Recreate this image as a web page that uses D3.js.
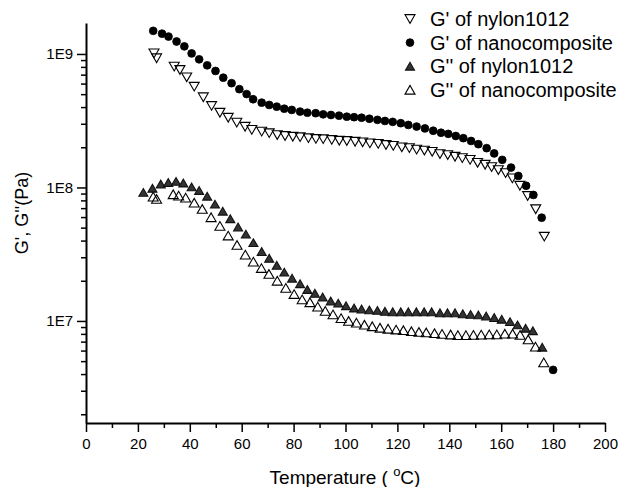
<!DOCTYPE html>
<html>
<head>
<meta charset="utf-8">
<script src="https://cdn.jsdelivr.net/npm/d3@7"></script>
<style>
  html, body { margin: 0; padding: 0; background: #fff; }
  svg { display: block; font-family: "Liberation Sans", Arial, sans-serif; }
</style>
</head>
<body>
<svg id="chart" width="618" height="487"></svg>
<script>
// Storage modulus G' and loss modulus G'' versus temperature (Pa)

// G' of nylon1012
const gpNylonT = [26.2, 27.2, 34.0, 36.2, 38.8, 41.7, 45.2, 48.4, 51.6, 54.8, 58.1, 61.3, 63.9, 67.7, 70.6, 73.7, 76.7, 79.7, 82.5, 85.7, 88.6, 91.4, 94.7, 97.6, 100.5, 103.7, 106.6, 109.4, 112.6, 115.6, 118.4, 121.7, 124.6, 127.4, 130.4, 133.4, 136.4, 139.4, 142.2, 145.0, 148.0, 150.9, 153.8, 156.3, 158.9, 161.7, 164.3, 167.2, 170.2, 173.3, 176.6];
const gpNylonV = [1.01e9, 9.29e8, 8.04e8, 7.59e8, 6.69e8, 5.69e8, 4.74e8, 4.08e8, 3.63e8, 3.33e8, 3.06e8, 2.85e8, 2.70e8, 2.62e8, 2.55e8, 2.47e8, 2.43e8, 2.40e8, 2.38e8, 2.34e8, 2.31e8, 2.30e8, 2.27e8, 2.24e8, 2.23e8, 2.20e8, 2.18e8, 2.14e8, 2.12e8, 2.08e8, 2.05e8, 2.00e8, 1.97e8, 1.92e8, 1.89e8, 1.85e8, 1.78e8, 1.75e8, 1.70e8, 1.66e8, 1.61e8, 1.53e8, 1.48e8, 1.42e8, 1.35e8, 1.28e8, 1.17e8, 1.03e8, 8.63e7, 6.87e7, 4.28e7];

// G' of nanocomposite
const gpNanoT = [25.9, 29.3, 31.8, 34.9, 37.9, 40.7, 43.6, 46.7, 49.9, 52.9, 56.1, 59.1, 61.9, 64.4, 67.7, 70.6, 73.5, 76.4, 79.3, 82.5, 85.3, 88.5, 91.4, 94.4, 97.5, 100.5, 103.3, 106.2, 109.2, 112.3, 115.2, 118.2, 121.3, 124.2, 127.4, 130.6, 133.8, 136.8, 139.6, 142.5, 145.4, 148.4, 151.2, 154.4, 157.3, 160.4, 163.8, 166.6, 169.6, 172.4, 175.6, 180.0];
const gpNanoV = [1.49e9, 1.42e9, 1.35e9, 1.24e9, 1.14e9, 1.01e9, 9.12e8, 8.22e8, 7.46e8, 6.64e8, 6.04e8, 5.45e8, 5.01e8, 4.58e8, 4.32e8, 4.15e8, 4.03e8, 3.89e8, 3.81e8, 3.70e8, 3.63e8, 3.60e8, 3.53e8, 3.49e8, 3.45e8, 3.39e8, 3.36e8, 3.33e8, 3.27e8, 3.21e8, 3.15e8, 3.10e8, 3.03e8, 2.94e8, 2.86e8, 2.77e8, 2.66e8, 2.57e8, 2.52e8, 2.43e8, 2.34e8, 2.23e8, 2.11e8, 1.97e8, 1.80e8, 1.61e8, 1.41e8, 1.22e8, 1.03e8, 8.79e7, 5.94e7, 4.30e6];

// G'' of nylon1012
const gppNylonT = [22.1, 25.6, 28.8, 31.7, 34.7, 37.5, 40.7, 43.6, 46.7, 49.7, 52.7, 55.6, 58.6, 61.6, 64.5, 67.7, 70.6, 73.5, 76.4, 79.4, 82.5, 85.3, 88.2, 91.2, 94.3, 97.2, 100.2, 103.3, 106.2, 109.2, 112.3, 115.2, 118.2, 121.3, 124.2, 127.3, 130.3, 133.2, 136.4, 139.3, 142.2, 145.2, 148.2, 151.2, 154.2, 157.3, 160.2, 163.4, 166.3, 169.4, 172.2, 175.8];
const gppNylonV = [9.18e7, 9.86e7, 1.06e8, 1.09e8, 1.11e8, 1.08e8, 1.01e8, 9.50e7, 8.60e7, 7.50e7, 6.64e7, 5.83e7, 5.06e7, 4.47e7, 3.86e7, 3.31e7, 2.95e7, 2.61e7, 2.32e7, 2.09e7, 1.90e7, 1.72e7, 1.61e7, 1.51e7, 1.41e7, 1.36e7, 1.30e7, 1.25e7, 1.23e7, 1.21e7, 1.20e7, 1.18e7, 1.17e7, 1.17e7, 1.17e7, 1.17e7, 1.17e7, 1.17e7, 1.15e7, 1.15e7, 1.15e7, 1.13e7, 1.12e7, 1.11e7, 1.09e7, 1.06e7, 1.03e7, 9.88e6, 9.34e6, 8.82e6, 8.45e6, 6.36e6];

// G'' of nanocomposite
const gppNanoT = [25.9, 27.2, 33.6, 35.7, 38.4, 41.7, 44.8, 48.2, 51.6, 54.8, 58.2, 61.4, 64.5, 67.6, 70.5, 73.7, 77.0, 80.2, 83.3, 86.3, 89.3, 92.2, 95.2, 98.3, 101.2, 104.2, 107.3, 110.3, 113.3, 116.4, 119.5, 122.3, 125.4, 128.3, 131.1, 134.3, 137.2, 140.5, 143.3, 146.4, 149.3, 152.3, 155.4, 158.3, 161.4, 164.4, 167.3, 170.4, 173.2, 176.4];
const gppNanoV = [8.53e7, 8.20e7, 8.89e7, 8.68e7, 8.39e7, 7.69e7, 6.90e7, 5.98e7, 5.15e7, 4.36e7, 3.71e7, 3.14e7, 2.78e7, 2.49e7, 2.25e7, 2.00e7, 1.77e7, 1.59e7, 1.45e7, 1.38e7, 1.28e7, 1.19e7, 1.12e7, 1.05e7, 1.00e7, 9.71e6, 9.37e6, 9.12e6, 8.89e6, 8.74e6, 8.62e6, 8.52e6, 8.38e6, 8.27e6, 8.20e6, 8.09e6, 8.00e6, 7.91e6, 7.83e6, 7.83e6, 7.86e6, 7.90e6, 7.93e6, 7.93e6, 8.02e6, 8.02e6, 7.86e6, 7.27e6, 6.42e6, 4.89e6];

// Axis ticks
const xTicks = [0, 20, 40, 60, 80, 100, 120, 140, 160, 180, 200];
const xMinorTicks = [10, 30, 50, 70, 90, 110, 130, 150, 170, 190];
const yTicks = [1e7, 1e8, 1e9];
const yTickLabels = ["1E7", "1E8", "1E9"];
const yMinorTicks = [2e6, 3e6, 4e6, 5e6, 6e6, 7e6, 8e6, 9e6,
                     2e7, 3e7, 4e7, 5e7, 6e7, 7e7, 8e7, 9e7,
                     2e8, 3e8, 4e8, 5e8, 6e8, 7e8, 8e8, 9e8];

const seriesNames = ["G' of nylon1012", "G' of nanocomposite", "G'' of nylon1012", "G'' of nanocomposite"];

const svg = d3.select("#chart");
const plot = { left: 86, right: 605, top: 23, bottom: 423 };

const x = d3.scaleLinear().domain([0, 200]).range([plot.left, plot.right]);
const y = d3.scaleLog().domain([1.72e6, 1.706e9]).range([plot.bottom, plot.top]);

// Marker shapes
function downTri(s) { const h = s * 0.866; return `M${-s/2},${-h/2}L${s/2},${-h/2}L0,${h/2}Z`; }
function upTri(s) { const h = s * 0.866; return `M${-s/2},${h/2}L${s/2},${h/2}L0,${-h/2}Z`; }

const styles = [
  { kind: "down", fill: "none", stroke: "#000", size: 10 },
  { kind: "circle", fill: "#000", stroke: "#000" },
  { kind: "up", fill: "#333", stroke: "#111", size: 9 },
  { kind: "up", fill: "none", stroke: "#000", size: 10 }
];

function drawMarker(g, st) {
  if (st.kind === "circle") {
    g.append("circle").attr("r", 3.9).attr("fill", st.fill).attr("stroke", st.stroke).attr("stroke-width", 0.8);
  } else {
    g.append("path").attr("d", st.kind === "down" ? downTri(st.size) : upTri(st.size))
      .attr("fill", st.fill).attr("stroke", st.stroke).attr("stroke-width", 1.1)
      .attr("stroke-linejoin", "miter");
  }
}

// Axes
svg.append("g").attr("transform", `translate(0,${plot.bottom})`)
  .call(d3.axisBottom(x).tickValues(xTicks).tickSize(9).tickPadding(6).tickSizeOuter(0));
svg.append("g").attr("transform", `translate(0,${plot.bottom})`)
  .call(d3.axisBottom(x).tickValues(xMinorTicks).tickSize(5).tickFormat("").tickSizeOuter(0))
  .select(".domain").remove();

svg.append("g").attr("transform", `translate(${plot.left},0)`)
  .call(d3.axisLeft(y).tickValues(yTicks).tickSize(9).tickPadding(4).tickSizeOuter(0)
    .tickFormat((d, i) => yTickLabels[i]));
svg.append("g").attr("transform", `translate(${plot.left},0)`)
  .call(d3.axisLeft(y).tickValues(yMinorTicks).tickSize(5).tickFormat("").tickSizeOuter(0))
  .select(".domain").remove();

svg.selectAll(".domain").attr("stroke", "#000").attr("stroke-width", 2);
svg.selectAll(".tick line").attr("stroke", "#000").attr("stroke-width", 1.5);
svg.selectAll(".tick text").attr("fill", "#000").attr("font-size", 15)
  .attr("font-family", "'Liberation Sans', Arial, sans-serif");

// Axis titles
const xTitle = svg.append("text").attr("x", 345).attr("y", 484).attr("text-anchor", "middle")
  .attr("font-size", 19).attr("fill", "#000");
xTitle.append("tspan").text("Temperature ( ");
xTitle.append("tspan").attr("font-size", 13).attr("dy", -8).text("o");
xTitle.append("tspan").attr("dy", 8).text("C)");

svg.append("text").attr("transform", "translate(28,213) rotate(-90)")
  .attr("text-anchor", "middle").attr("font-size", 18).attr("fill", "#000")
  .text("G', G''(Pa)");

// Data markers
const seriesData = [
  gpNylonT.map((t, i) => [t, gpNylonV[i]]),
  gpNanoT.map((t, i) => [t, gpNanoV[i]]),
  gppNylonT.map((t, i) => [t, gppNylonV[i]]),
  gppNanoT.map((t, i) => [t, gppNanoV[i]])
];

seriesData.forEach((pts, si) => {
  const g = svg.append("g").attr("class", "series");
  pts.forEach(p => {
    const m = g.append("g").attr("transform", `translate(${x(p[0])},${y(p[1])})`);
    drawMarker(m, styles[si]);
  });
});

// Legend
const legend = svg.append("g").attr("transform", "translate(410,19)");
seriesNames.forEach((name, i) => {
  const row = legend.append("g").attr("transform", `translate(0,${i * 23.6})`);
  drawMarker(row, styles[i]);
  row.append("text").attr("x", 20).attr("y", 7).attr("font-size", 20).attr("fill", "#000").text(name);
});
</script>
</body>
</html>
